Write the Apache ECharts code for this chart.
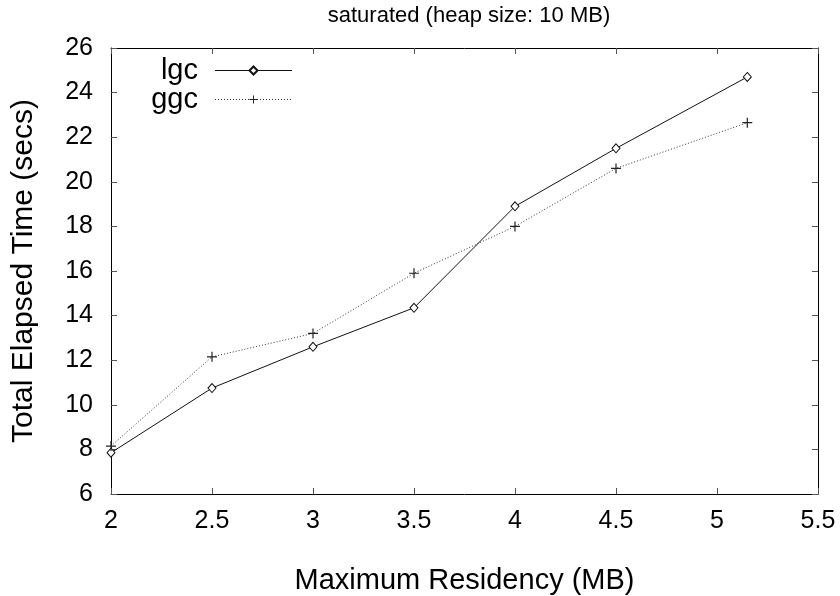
<!DOCTYPE html>
<html><head><meta charset="utf-8">
<script src="https://cdn.jsdelivr.net/npm/echarts@6/dist/echarts.min.js"></script>
<style>html,body{margin:0;padding:0;background:#fff}#c{width:840px;height:596px}</style>
</head><body><div id="c"></div>
<script>
const residency = [2, 2.5, 3, 3.5, 4, 4.5, 5.15];
const lgcTimes = [7.85, 10.75, 12.6, 14.35, 18.9, 21.5, 24.7];
const ggcTimes = [8.15, 12.15, 13.2, 15.9, 18.0, 20.6, 22.65];
const xTicks = [2, 2.5, 3, 3.5, 4, 4.5, 5, 5.5];
const yTicks = [6, 8, 10, 12, 14, 16, 18, 20, 22, 24, 26];

const FONT = 'Liberation Sans';
const chart = echarts.init(document.getElementById('c'), null, {renderer: 'canvas'});
const plus = 'path://M4.4,0H5.6V4.4H10V5.6H5.6V10H4.4V5.6H0V4.4H4.4Z';
const axisCommon = {
  axisLine: {show: true, lineStyle: {color: '#000', width: 1}},
  axisTick: {show: true, inside: true, length: 6, lineStyle: {color: '#555', width: 1}},
  splitLine: {show: false}
};
chart.setOption({
  animation: false,
  title: {
    text: 'saturated (heap size: 10 MB)', left: 464, top: 0, textAlign: 'center',
    textStyle: {fontFamily: FONT, fontSize: 22, fontWeight: 'normal', color: '#000'}
  },
  legend: {
    orient: 'vertical', left: 138, top: 56, align: 'right', itemGap: 0, padding: 0,
    itemWidth: 77, itemHeight: 10,
    lineStyle: {width: 1},
    textStyle: {fontFamily: FONT, fontSize: 29, lineHeight: 29, color: '#000', width: 60, align: 'right', padding: [0, 12, 0, 0]},
    data: ['lgc', 'ggc']
  },
  grid: {left: 111, right: 22, top: 48, bottom: 102, outerBoundsMode: 'none', containLabel: false},
  xAxis: [
    Object.assign({
      type: 'value', min: xTicks[0], max: xTicks[xTicks.length - 1], interval: 0.5,
      name: 'Maximum Residency (MB)', nameLocation: 'middle', nameGap: 72,
      nameTextStyle: {fontFamily: FONT, fontSize: 29, color: '#000'},
      axisLabel: {fontFamily: FONT, fontSize: 25, color: '#000', margin: 15}
    }, axisCommon),
    Object.assign({
      type: 'value', position: 'top', min: xTicks[0], max: xTicks[xTicks.length - 1], interval: 0.5,
      axisLabel: {show: false}
    }, axisCommon)
  ],
  yAxis: [
    Object.assign({
      type: 'value', min: yTicks[0], max: yTicks[yTicks.length - 1], interval: 2,
      name: 'Total Elapsed Time (secs)', nameLocation: 'middle', nameGap: 72,
      nameTextStyle: {fontFamily: FONT, fontSize: 30, color: '#000'},
      axisLabel: {fontFamily: FONT, fontSize: 25, color: '#000', margin: 18}
    }, axisCommon),
    Object.assign({
      type: 'value', position: 'right', min: yTicks[0], max: yTicks[yTicks.length - 1], interval: 2,
      axisLabel: {show: false}
    }, axisCommon)
  ],
  series: [
    {
      name: 'lgc', type: 'line', data: residency.map((x, i) => [x, lgcTimes[i]]),
      symbol: 'diamond', symbolSize: [8, 9], showAllSymbol: true,
      lineStyle: {color: '#111', width: 1, type: 'solid'},
      itemStyle: {color: '#fff', borderColor: '#111', borderWidth: 1}
    },
    {
      name: 'ggc', type: 'line', data: residency.map((x, i) => [x, ggcTimes[i]]),
      symbol: plus, symbolSize: 10, showAllSymbol: true,
      lineStyle: {color: '#333', width: 1, type: [1, 2]},
      itemStyle: {color: '#222', borderWidth: 0}
    }
  ]
});
</script></body></html>
